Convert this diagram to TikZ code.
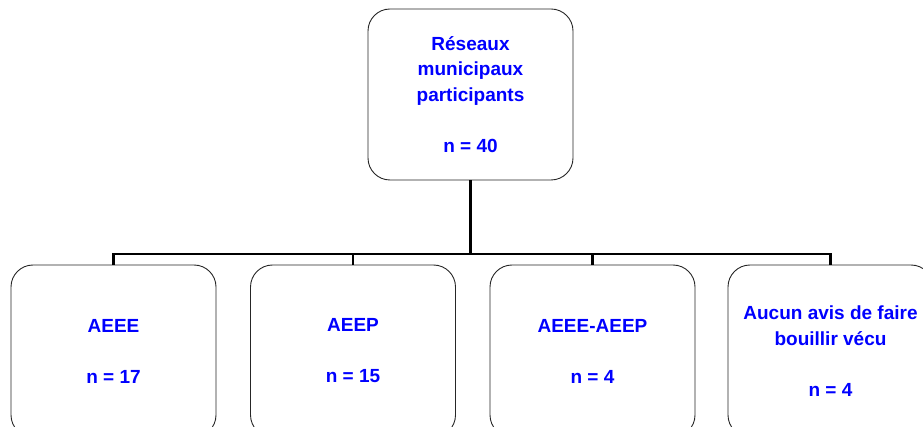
\documentclass[tikz,border=0pt]{standalone}
\usepackage{fontspec}
\setmainfont{Liberation Sans}
\begin{document}
\begin{tikzpicture}[x=1pt,y=-1pt,
  box/.style={draw=black!85, line width=0.9pt, rounded corners=22pt, minimum width=205pt, minimum height=172pt, inner sep=0pt},
  lbl/.style={text=blue, font=\bfseries\fontsize{19}{25.5}\selectfont, align=center, inner sep=0pt},
  link/.style={line width=2.5pt, black}]
\useasboundingbox (0,0) rectangle (923,427);
\clip (0,0) rectangle (923,427);
\node[box, minimum height=171pt] (top) at (470.5,94.5) {};
\node[box] (b1) at (113.5,351) {};
\node[box] (b2) at (353,351) {};
\node[box] (b3) at (592.5,351) {};
\node[box] (b4) at (830.5,351) {};
\coordinate (bar) at (0,254);
\node[lbl] (t0) at (top.center) {Réseaux\\municipaux\\participants\\[25.5pt]n = 40};
\node[lbl] (t1) at (b1.center) {AEEE\\[25.5pt]n = 17};
\node[lbl] (t2) at (b2.center) {AEEP\\[25.5pt]n = 15};
\node[lbl] (t3) at (b3.center) {AEEE-AEEP\\[25.5pt]n = 4};
\node[lbl] (t4) at (b4.center) {Aucun avis de faire\\bouillir vécu\\[25.5pt]n = 4};
\draw[link] (top.south) -- (top.south |- bar);
\draw[link] (b1.north) -- (b1.north |- bar) -- (b4.north |- bar) -- (b4.north);
\draw[link] (b2.north) -- (b2.north |- bar);
\draw[link] (b3.north) -- (b3.north |- bar);
\end{tikzpicture}
\end{document}
